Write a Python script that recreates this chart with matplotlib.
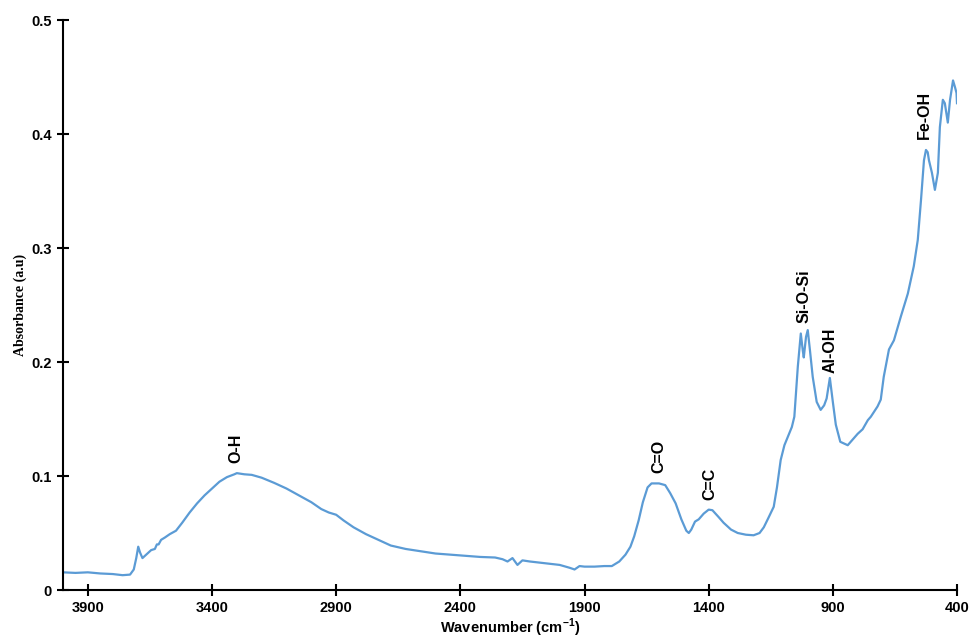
import numpy as np
import matplotlib
matplotlib.use('Agg')
import matplotlib.pyplot as plt

# FTIR spectrum (wavenumber cm-1, absorbance)
wn = [4000, 3950, 3900, 3850, 3800, 3760, 3730, 3715, 3705, 3697, 3690, 3680,
      3665, 3645, 3630, 3622, 3615, 3605, 3590, 3570, 3545, 3520, 3490, 3460,
      3430, 3400, 3370, 3340, 3310, 3300, 3270, 3240, 3200, 3150, 3100, 3050,
      3000, 2960, 2930, 2900, 2870, 2830, 2780, 2730, 2680, 2620, 2560, 2500,
      2440, 2380, 2320, 2260, 2230, 2210, 2190, 2170, 2150, 2120, 2080, 2040,
      2000, 1960, 1940, 1920, 1900, 1860, 1820, 1790, 1760, 1735, 1715, 1700,
      1682, 1665, 1646, 1630, 1600, 1575, 1555, 1533, 1510, 1490, 1480, 1470,
      1455, 1440, 1420, 1400, 1385, 1360, 1340, 1310, 1283, 1250, 1219, 1195,
      1178, 1160, 1138, 1125, 1110, 1095, 1082, 1065, 1055, 1041, 1029, 1021,
      1017, 1008, 1001, 992, 981, 965, 949, 935, 925, 912, 900, 888, 870, 850,
      840, 820, 800, 780, 759, 747, 720, 707, 695, 674, 654, 626, 598, 574,
      558, 545, 533, 525, 518, 513, 501, 489, 477, 469, 457, 449, 437, 428,
      416, 408, 402, 400]
absb = [0.0155, 0.015, 0.0155, 0.0145, 0.014, 0.013, 0.0135, 0.018, 0.028, 0.038, 0.033, 0.028,
        0.031, 0.035, 0.036, 0.040, 0.040, 0.044, 0.046, 0.049, 0.052, 0.059, 0.068, 0.076,
        0.083, 0.089, 0.095, 0.099, 0.1015, 0.1025, 0.1015, 0.101, 0.0985, 0.094, 0.089, 0.083,
        0.077, 0.071, 0.068, 0.066, 0.061, 0.055, 0.049, 0.044, 0.039, 0.036, 0.034, 0.032,
        0.031, 0.030, 0.029, 0.0285, 0.027, 0.025, 0.028, 0.022, 0.026, 0.025, 0.024, 0.023,
        0.022, 0.0195, 0.018, 0.021, 0.0205, 0.0205, 0.021, 0.021, 0.025, 0.031, 0.038, 0.047,
        0.061, 0.077, 0.090, 0.0935, 0.0935, 0.092, 0.085, 0.076, 0.062, 0.052, 0.050, 0.053,
        0.060, 0.062, 0.067, 0.0705, 0.070, 0.064, 0.059, 0.053, 0.050, 0.0485, 0.048, 0.050,
        0.055, 0.063, 0.073, 0.090, 0.114, 0.127, 0.134, 0.143, 0.152, 0.196, 0.225, 0.21,
        0.204, 0.222, 0.228, 0.21, 0.187, 0.165, 0.158, 0.162, 0.168, 0.186, 0.165, 0.145, 0.130, 0.128,
        0.127, 0.132, 0.137, 0.141, 0.149, 0.152, 0.161, 0.167, 0.187, 0.211, 0.219, 0.240, 0.260, 0.284,
        0.307, 0.342, 0.377, 0.386, 0.384, 0.377, 0.366, 0.351, 0.366, 0.406, 0.430, 0.427, 0.410, 0.430,
        0.447, 0.441, 0.436, 0.427]

# band labels: text, wavenumber, absorbance at the base of the text
band_names = ['O-H', 'C=O', 'C=C', 'Si-O-Si', 'Al-OH', 'Fe-OH']
band_wn = [3303, 1602, 1396, 1017, 912, 533]
band_y = [0.111, 0.103, 0.079, 0.234, 0.190, 0.396]

xticks = [3900, 3400, 2900, 2400, 1900, 1400, 900, 400]
yticks = [0, 0.1, 0.2, 0.3, 0.4, 0.5]
ytick_labels = ['0', '0.1', '0.2', '0.3', '0.4', '0.5']

sans = 'Liberation Sans'
plt.rcParams['mathtext.fontset'] = 'custom'
plt.rcParams['mathtext.rm'] = 'Liberation Sans:bold'
plt.rcParams['mathtext.bf'] = 'Liberation Sans:bold'

fig = plt.figure(figsize=(9.71, 6.37), dpi=100)
ax = fig.add_axes([63/971, 47/637, 894/971, 570/637])
ax.plot(wn, absb, color='#5B9BD5', lw=1.6)

for name, x, y in zip(band_names, band_wn, band_y):
    ax.text(x, y, name, rotation=90, ha='center', va='bottom',
            fontsize=11.5, fontweight='bold', family=sans)

ax.set_xlim(4000, 400)
ax.set_ylim(0, 0.5)
ax.set_xticks(xticks)
ax.set_yticks(yticks)
ax.set_yticklabels(ytick_labels)
for s in ['top', 'right']:
    ax.spines[s].set_visible(False)
for s in ['left', 'bottom']:
    ax.spines[s].set_linewidth(1.5)
ax.tick_params(direction='inout', length=8, width=1.5, labelsize=10.5, pad=4)
for lab in ax.get_xticklabels() + ax.get_yticklabels():
    lab.set_fontweight('bold')
    lab.set_family(sans)

ax.set_xlabel('Wavenumber (cm$^{\\mathregular{-1}}$)', fontsize=10.5, fontweight='bold',
              family=sans, labelpad=1)
ax.set_ylabel('Absorbance (a.u)', fontsize=10, fontweight='bold', family='Liberation Serif', labelpad=3)

fig.savefig('out.png', dpi=100)
